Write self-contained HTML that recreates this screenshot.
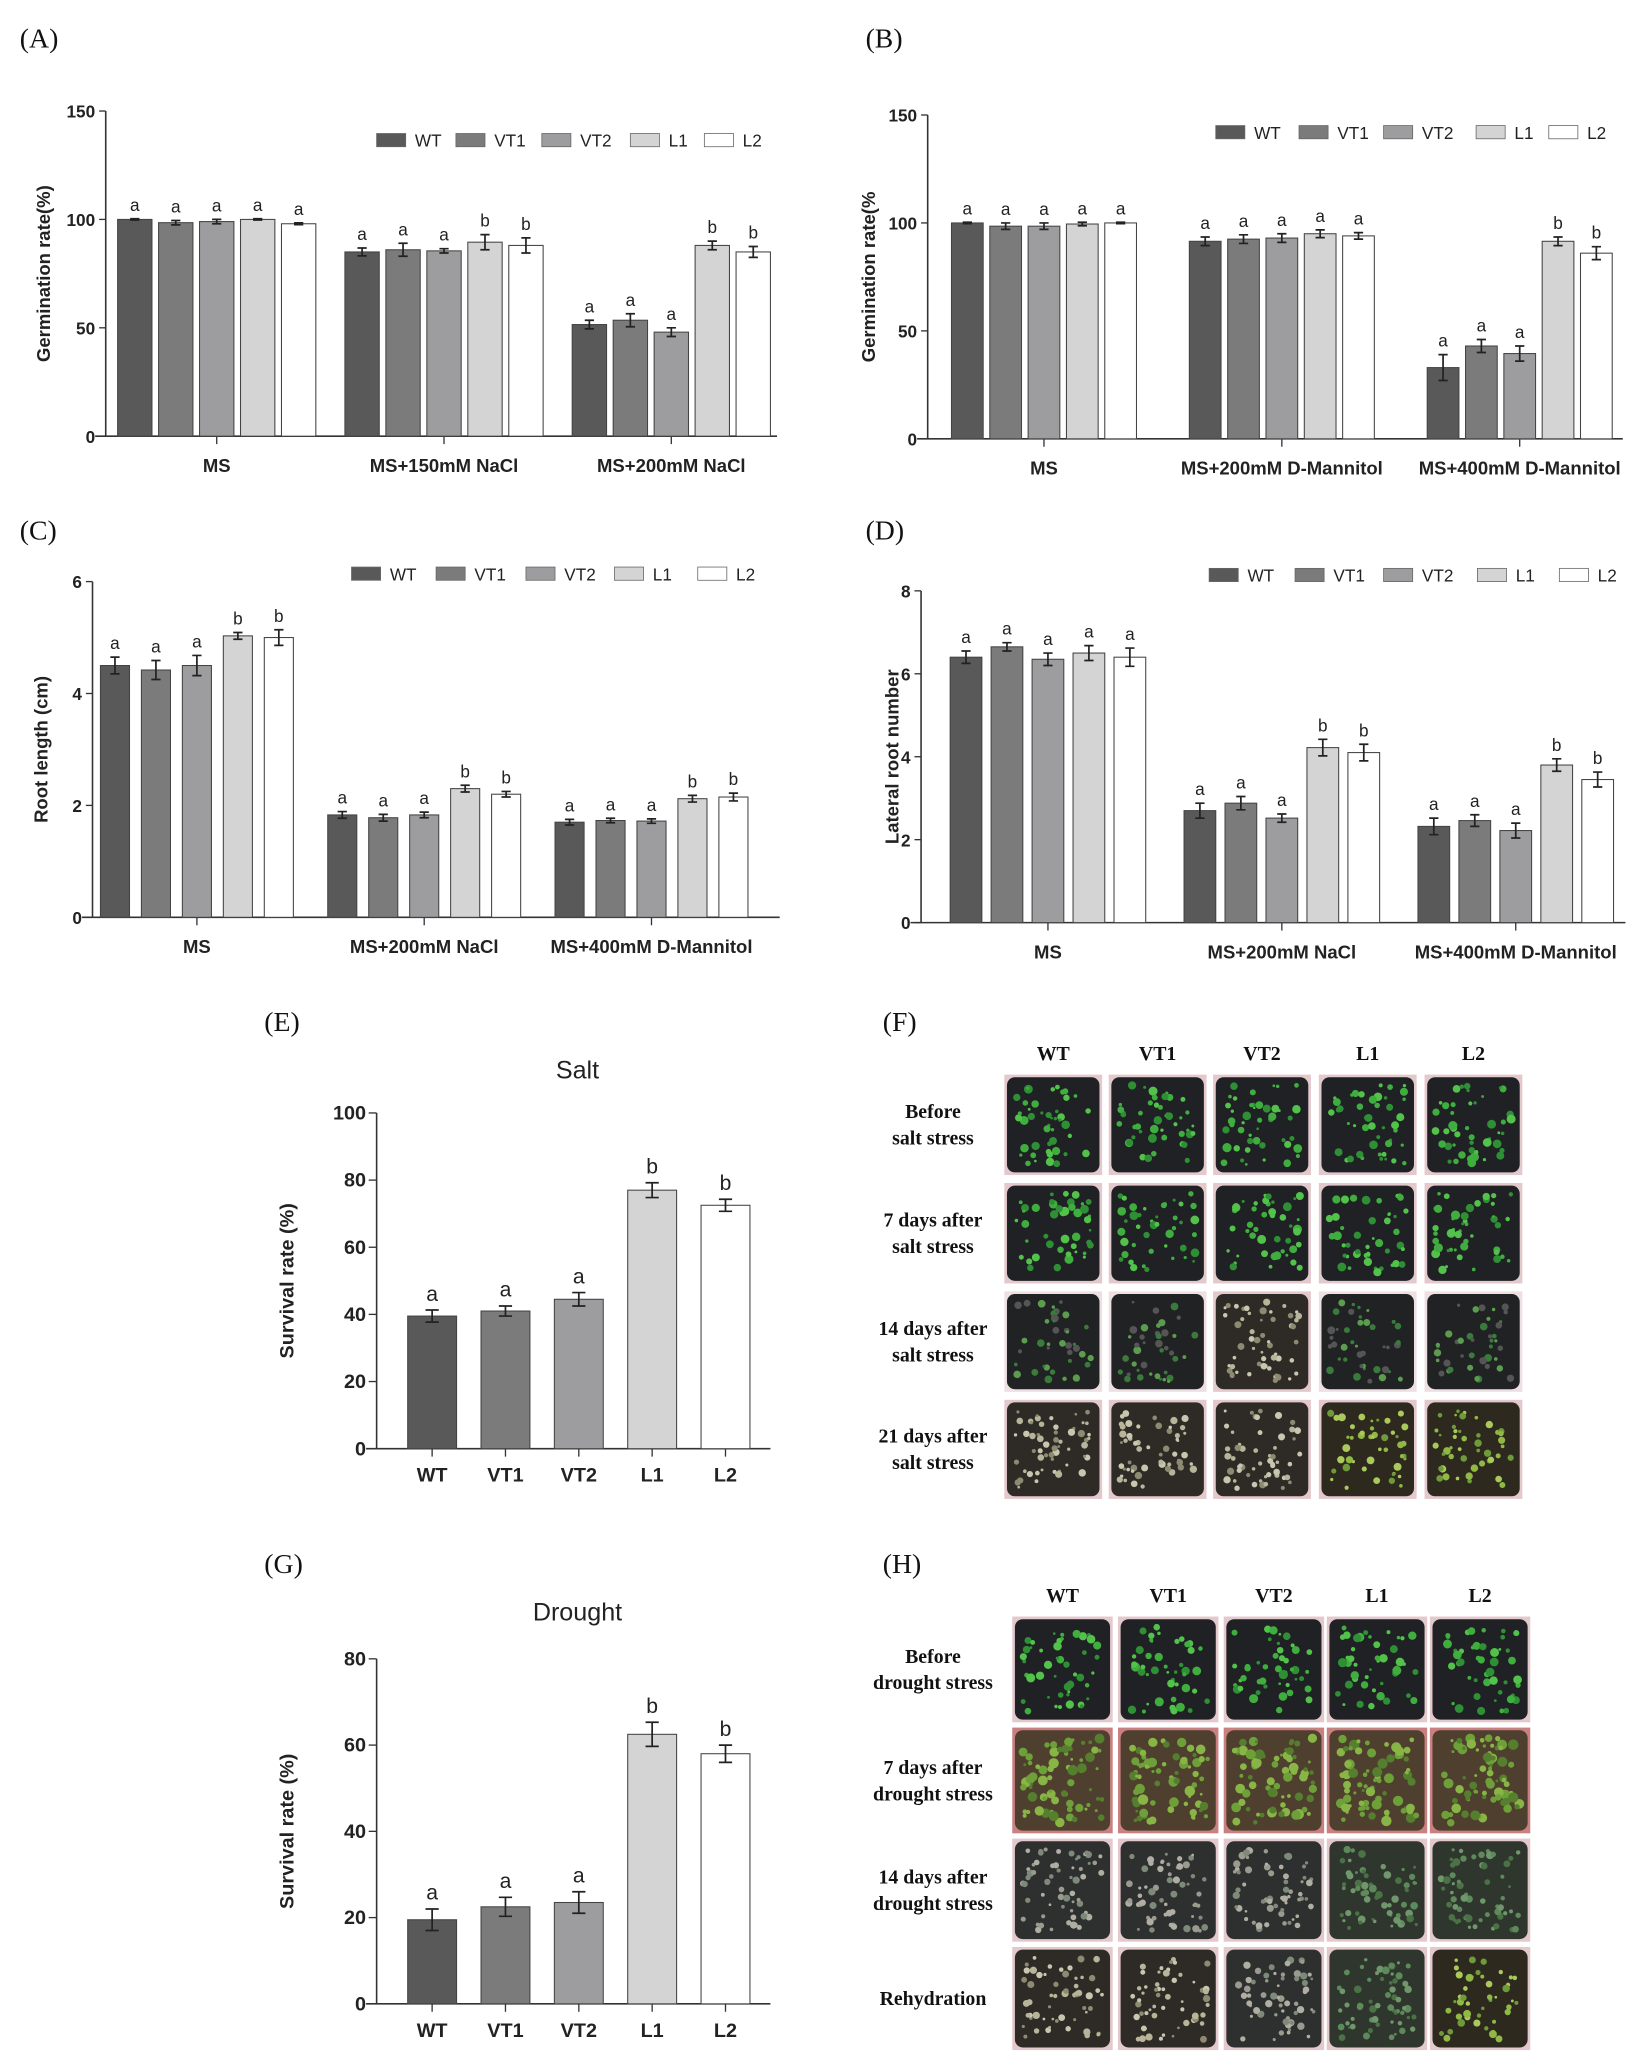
<!DOCTYPE html>
<html><head><meta charset="utf-8">
<style>
html,body{margin:0;padding:0;background:#fff;}
svg{display:block;}
.tk{font-family:"Liberation Sans",sans-serif;font-weight:bold;font-size:13px;fill:#222;}
.ax{font-family:"Liberation Sans",sans-serif;font-weight:bold;font-size:14px;fill:#222;}
.lg{font-family:"Liberation Sans",sans-serif;font-size:13px;fill:#222;}
.sig{font-family:"Liberation Sans",sans-serif;font-size:13px;fill:#222;}
.pl{font-family:"Liberation Serif",serif;font-size:21px;fill:#111;}
.ph{font-family:"Liberation Serif",serif;font-weight:bold;font-size:15px;fill:#111;}
.tt{font-family:"Liberation Sans",sans-serif;font-size:19px;fill:#222;}
</style></head>
<body>
<svg id="fig" width="1636" height="2062" viewBox="0 0 1238 1560" preserveAspectRatio="none" xmlns="http://www.w3.org/2000/svg"></svg>
<script>
// ---- data ----
const genotypes = ["WT","VT1","VT2","L1","L2"];
const aGroups = ["MS","MS+150mM NaCl","MS+200mM NaCl"];
const aValues = [[100,98.5,99,100,98],[85,86,85.5,89.5,88],[51.5,53.5,48,88,85]];
const aErr = [[0.3,1,1,0.3,0.4],[1.8,3,1,3.5,3.5],[2,3,2,2,2.5]];
const aSig = [["a","a","a","a","a"],["a","a","a","b","b"],["a","a","a","b","b"]];
const aTicks = [0,50,100,150];
const bGroups = ["MS","MS+200mM D-Mannitol","MS+400mM D-Mannitol"];
const bValues = [[100,98.5,98.5,99.5,100],[91.5,92.5,93,95,94],[33,43,39.5,91.5,86]];
const bErr = [[0.3,1.5,1.5,0.8,0.3],[2,2,2,1.8,1.5],[6,3,3.5,2,3]];
const bSig = [["a","a","a","a","a"],["a","a","a","a","a"],["a","a","a","b","b"]];
const bTicks = [0,50,100,150];
const cGroups = ["MS","MS+200mM NaCl","MS+400mM D-Mannitol"];
const cValues = [[4.5,4.42,4.5,5.03,5.0],[1.83,1.78,1.83,2.3,2.2],[1.7,1.73,1.72,2.12,2.15]];
const cErr = [[0.15,0.17,0.18,0.06,0.14],[0.06,0.06,0.05,0.06,0.05],[0.05,0.04,0.04,0.06,0.07]];
const cSig = [["a","a","a","b","b"],["a","a","a","b","b"],["a","a","a","b","b"]];
const cTicks = [0,2,4,6];
const dGroups = ["MS","MS+200mM NaCl","MS+400mM D-Mannitol"];
const dValues = [[6.4,6.65,6.35,6.5,6.4],[2.7,2.88,2.52,4.22,4.1],[2.32,2.46,2.22,3.8,3.45]];
const dErr = [[0.15,0.1,0.15,0.18,0.22],[0.18,0.16,0.1,0.2,0.2],[0.2,0.14,0.18,0.15,0.18]];
const dSig = [["a","a","a","a","a"],["a","a","a","b","b"],["a","a","a","b","b"]];
const dTicks = [0,2,4,6,8];
const eValues = [39.5,41,44.5,77,72.5];
const eErr = [1.8,1.5,2,2.2,1.8];
const eSig = ["a","a","a","b","b"];
const eTicks = [0,20,40,60,80,100];
const gValues = [19.5,22.5,23.5,62.5,58];
const gErr = [2.5,2.2,2.5,2.8,2];
const gSig = ["a","a","a","b","b"];
const gTicks = [0,20,40,60,80];

const fills = ["#595959","#7b7b7b","#9d9d9f","#d4d4d4","#ffffff"];
const NS="http://www.w3.org/2000/svg";
const svg=document.getElementById('fig');
function mk(tag,attrs,parent,txt){const e=document.createElementNS(NS,tag);for(const k in attrs)e.setAttribute(k,attrs[k]);if(txt!==undefined)e.textContent=txt;(parent||svg).appendChild(e);return e;}

function groupedChart(id,L,groups,values,errs,sigs,ticks,ytitle){
  const g=mk('g',{});
  
  
  const ymax=ticks[ticks.length-1];
  const y=v=>L.y0-(v/ymax)*(L.y0-L.ytop);
  mk('line',{x1:L.ax,y1:L.ytop,x2:L.ax,y2:L.y0,stroke:'#333','stroke-width':1.2},g);
  mk('line',{x1:L.ax-8,y1:L.y0,x2:L.xend,y2:L.y0,stroke:'#333','stroke-width':1.2},g);
  ticks.forEach(t=>{
    mk('line',{x1:L.ax-5,y1:y(t),x2:L.ax,y2:y(t),stroke:'#333'},g);
    const tl=mk('text',{x:L.ax-8,y:y(t)+5,'text-anchor':'end',class:'tk'},g,t);
    
    
  });
  const yt=mk('text',{x:0,y:0,transform:`translate(${L.ytx},${(L.ytop+L.y0)/2}) rotate(-90)`,'text-anchor':'middle',class:'ax'},g,ytitle);
  
  
  groups.forEach((gn,gi)=>{
    const cx=L.g0+gi*L.gstep;
    mk('line',{x1:cx,y1:L.y0,x2:cx,y2:L.y0+6,stroke:'#333'},g);
    const xl=mk('text',{x:cx,y:L.y0+27,'text-anchor':'middle',class:'ax'},g,gn);
    
    
    values[gi].forEach((v,i)=>{
      const bx=cx+(i-2)*L.step-L.bw/2;
      const r=mk('rect',{x:bx,y:y(v),width:L.bw,height:L.y0-y(v),fill:fills[i],stroke:'#444','stroke-width':0.8},g);
      
      
      const e=errs[gi][i],mx=bx+L.bw/2;
      mk('path',{d:`M${mx} ${y(v+e)}V${y(v-e)}M${mx-3.5} ${y(v+e)}H${mx+3.5}M${mx-3.5} ${y(v-e)}H${mx+3.5}`,stroke:'#222','stroke-width':1.3,fill:'none'},g);
      const s=mk('text',{x:mx,y:y(v+e)-6,'text-anchor':'middle',class:'sig'},g,sigs[gi][i]);
      
      
    });
  });
  L.leg.forEach((lx,i)=>{
    const lr=mk('rect',{x:lx,y:L.ly-5,width:22,height:10,fill:fills[i],stroke:'#666','stroke-width':0.6},g);
    
    
    const lt=mk('text',{x:lx+29,y:L.ly+5,class:'lg'},g,genotypes[i]);
    
    
  });
}

function simpleChart(id,L,values,errs,sigs,ticks,title){
  const g=mk('g',{});
  
  
  const ymax=ticks[ticks.length-1];
  const y=v=>L.y0-(v/ymax)*(L.y0-L.ytop);
  mk('line',{x1:L.ax,y1:L.ytop,x2:L.ax,y2:L.y0,stroke:'#333','stroke-width':1.2},g);
  mk('line',{x1:L.ax-8,y1:L.y0,x2:L.xend,y2:L.y0,stroke:'#333','stroke-width':1.2},g);
  ticks.forEach(t=>{
    mk('line',{x1:L.ax-6,y1:y(t),x2:L.ax,y2:y(t),stroke:'#333'},g);
    const tl=mk('text',{x:L.ax-8,y:y(t)+5,'text-anchor':'end',class:'tk',style:'font-size:15px'},g,t);
    
    
  });
  const yt=mk('text',{x:0,y:0,transform:`translate(${L.ytx},${(L.ytop+L.y0)/2}) rotate(-90)`,'text-anchor':'middle',class:'ax',style:'font-size:15px'},g,'Survival rate (%)');
  
  
  const tt=mk('text',{x:L.tx,y:L.ty,'text-anchor':'middle',class:'tt'},g,title);
  
  
  values.forEach((v,i)=>{
    const cx=L.c0+i*L.step;
    const r=mk('rect',{x:cx-L.bw/2,y:y(v),width:L.bw,height:L.y0-y(v),fill:fills[i],stroke:'#444','stroke-width':0.8},g);
    
    
    const e=errs[i];
    mk('path',{d:`M${cx} ${y(v+e)}V${y(v-e)}M${cx-5} ${y(v+e)}H${cx+5}M${cx-5} ${y(v-e)}H${cx+5}`,stroke:'#222','stroke-width':1.3,fill:'none'},g);
    const s=mk('text',{x:cx,y:y(v+e)-7,'text-anchor':'middle',class:'sig',style:'font-size:16px'},g,sigs[i]);
    
    
    mk('line',{x1:cx,y1:L.y0,x2:cx,y2:L.y0+6,stroke:'#333'},g);
    const xl=mk('text',{x:cx,y:L.y0+25,'text-anchor':'middle',class:'ax',style:'font-size:15px'},g,genotypes[i]);
    
    
  });
}

groupedChart('a',{ax:80,ytop:84,y0:330,xend:588,ytx:38,g0:164,gstep:172,step:31,bw:26,ly:106,leg:[285,345,410,477,533]},aGroups,aValues,aErr,aSig,aTicks,'Germination rate(%)');
groupedChart('b',{ax:702,ytop:87,y0:332,xend:1228,ytx:662,g0:790,gstep:180,step:29,bw:24,ly:100,leg:[920,983,1047,1117,1172]},bGroups,bValues,bErr,bSig,bTicks,'Germination rate(%');
groupedChart('c',{ax:70,ytop:440,y0:694,xend:590,ytx:36,g0:149,gstep:172,step:31,bw:22,ly:434,leg:[266,330,398,465,528]},cGroups,cValues,cErr,cSig,cTicks,'Root length (cm)');
groupedChart('d',{ax:697,ytop:447,y0:698,xend:1230,ytx:680,g0:793,gstep:177,step:31,bw:24,ly:435,leg:[915,980,1047,1118,1180]},dGroups,dValues,dErr,dSig,dTicks,'Lateral root number');
simpleChart('e',{ax:285,ytop:842,y0:1096,xend:583,ytx:222,c0:327,step:55.5,bw:37,tx:437,ty:816},eValues,eErr,eSig,eTicks,'Salt');
simpleChart('g',{ax:285,ytop:1255,y0:1516,xend:583,ytx:222,c0:327,step:55.5,bw:37,tx:437,ty:1226},gValues,gErr,gSig,gTicks,'Drought');

// panel labels
[['(A)',15,36],['(B)',655,36],['(C)',15,408],['(D)',655,408],['(E)',200,780],['(F)',668,780],['(G)',200,1190],['(H)',668,1190]].forEach(p=>{
  const t=mk('text',{x:p[1],y:p[2],class:'pl'},svg,p[0]);
  
  
});

// photo grids (decorative)
let seed=7;function rnd(){seed=(seed*9301+49297)%233280;return seed/233280;}
function photoGrid(id,cols,hy,rows,rowLabels,styles){
  const g=mk('g',{});
  
  
  cols.forEach((c,i)=>{const t=mk('text',{x:c[0]+c[1]/2,y:hy,'text-anchor':'middle',class:'ph'},g,genotypes[i]);
    });
  rows.forEach((r,ri)=>{
    const lines=rowLabels[ri];
    lines.forEach((ln,li)=>{const t=mk('text',{x:706,y:r[0]+r[1]/2+(li-(lines.length-1)/2)*20+5,'text-anchor':'middle',class:'ph'},g,ln);
      });
    cols.forEach((c,ci)=>{
      const st=styles[ri][ci];
      mk('rect',{x:c[0],y:r[0],width:c[1],height:r[1],fill:st.edge},g);
      const p=mk('rect',{x:c[0]+2,y:r[0]+2,width:c[1]-4,height:r[1]-4,rx:6,fill:st.bg},g);
      
      for(let k=0;k<st.n;k++){
        mk('circle',{cx:c[0]+8+rnd()*(c[1]-16),cy:r[0]+8+rnd()*(r[1]-16),r:1+rnd()*st.sz,fill:st.dot[Math.floor(rnd()*st.dot.length)]},g);
      }
    });
  });
}
const G={bg:'#1f2124',edge:'#e3c8cc',dot:['#3fae3f','#52c24a','#2e8f35'],n:45,sz:2.5};
const W={bg:'#2e2b27',edge:'#e3c8cc',dot:['#b8b49a','#8e8a72','#c9c6b0'],n:55,sz:1.8};
const M={bg:'#202223',edge:'#eee0e2',dot:['#3a7a3c','#5b9c4e','#555'],n:40,sz:2};
const Y={bg:'#2e291f',edge:'#e3c8cc',dot:['#8fb845','#a9c95a','#6e9a3a'],n:45,sz:2};
const Br={bg:'#4e3f2e',edge:'#c98080',dot:['#6ea03a','#88b545','#557f2e'],n:70,sz:3};
const Gy={bg:'#2e3030',edge:'#e3c8cc',dot:['#9a9a8e','#7d8a7a','#b0aea2'],n:60,sz:1.8};
const Gg={bg:'#2f362d',edge:'#e3c8cc',dot:['#5d8a5a','#70966c','#4b7246'],n:60,sz:2};
photoGrid('f',[[760,74],[839,74],[918,74],[998,74],[1078,74]],802,[[813,76],[895,76],[977,76],[1059,75]],
  [['Before','salt stress'],['7 days after','salt stress'],['14 days after','salt stress'],['21 days after','salt stress']],
  [[G,G,G,G,G],[G,G,G,G,G],[M,M,W,M,M],[W,W,W,Y,Y]]);
photoGrid('h',[[766,76],[846,76],[926,76],[1004,76],[1082,76]],1212,[[1223,80],[1307,80],[1391,78],[1473,78]],
  [['Before','drought stress'],['7 days after','drought stress'],['14 days after','drought stress'],['Rehydration']],
  [[G,G,G,G,G],[Br,Br,Br,Br,Br],[Gy,Gy,Gy,Gg,Gg],[W,W,Gy,Gg,Y]]);
</script>
</body></html>
